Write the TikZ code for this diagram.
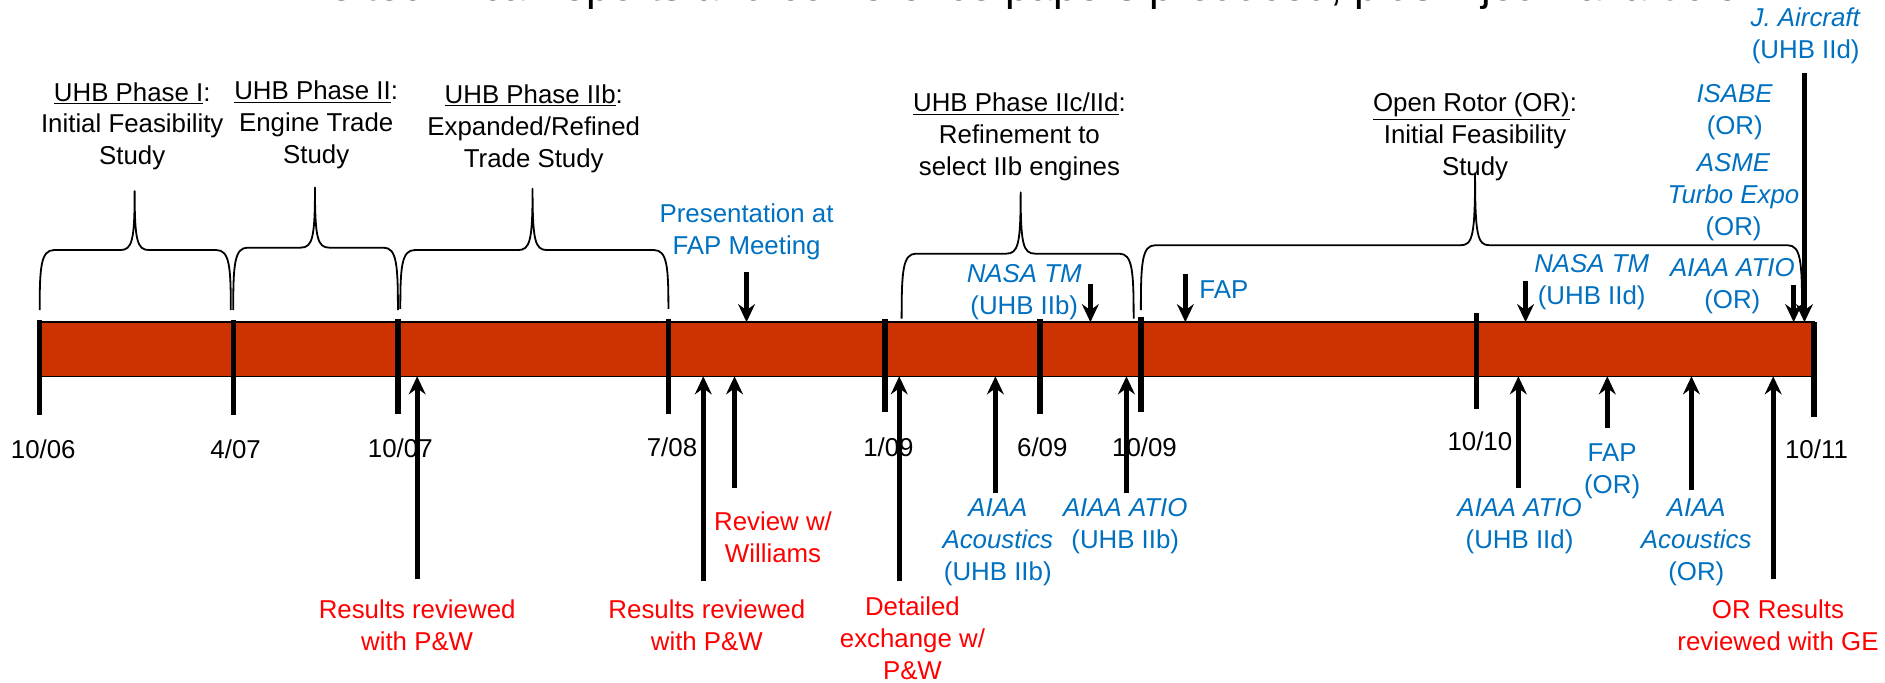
\documentclass[tikz,border=0pt]{standalone}
\usepackage{fontspec}
\setmainfont{Liberation Sans}
\usetikzlibrary{arrows.meta}
\definecolor{barred}{RGB}{204,51,0}
\definecolor{pubblue}{RGB}{0,112,192}
\definecolor{revred}{RGB}{255,0,0}
\newcommand{\phasebrace}[6]{% x1 x2 xm yh ytip ybot
  \draw[brace] (#1,#6) .. controls (#1,#4+14) and (#1+1,#4) .. (#1+12,#4)
    -- (#3-12,#4) .. controls (#3-2,#4) and (#3,#4-8) .. (#3,#5)
    .. controls (#3,#4-8) and (#3+2,#4) .. (#3+12,#4)
    -- (#2-12,#4) .. controls (#2-1,#4) and (#2,#4+14) .. (#2,#6);}
\newcommand{\tlup}[3]{\coordinate (#1-tail) at (#2,#3); \coordinate (#1-tip) at (#2,313); \draw[arr] (#1-tail) -- (#1-tip);}
\newcommand{\tldown}[3]{\coordinate (#1-tail) at (#2,#3); \coordinate (#1-tip) at (#2,268); \draw[arr] (#1-tail) -- (#1-tip);}
\newcommand{\tltick}[7]{% name x top bottom label lx ly
  \coordinate (#1-top) at (#2,#3); \coordinate (#1-bot) at (#2,#4);
  \draw[tickline] (#1-top) -- (#1-bot);
  \node[datelbl] (#1-lbl) at (#6,#7) {#5};}
\begin{document}
\begin{tikzpicture}[x=1pt,y=-1pt,
  lbl/.style={align=center, font=\fontsize{21.5}{26.5}\selectfont, inner sep=0pt},
  phase/.style={lbl, text=black},
  pub/.style={lbl, text=pubblue},
  rev/.style={lbl, text=revred},
  datelbl/.style={lbl, text=black},
  tickline/.style={line width=4.5pt},
  arr/.style={line width=4.3pt, -{Stealth[length=15pt,width=14pt,inset=5pt]}},
  brace/.style={line width=1.5pt, line join=round},
]
\useasboundingbox (0,0) rectangle (1568,568);
\clip (0,0) rectangle (1568,568);

% clipped title line at the very top
\node[anchor=base west, font=\fontsize{36}{40}\selectfont, inner sep=0pt] (title) at (220,0)
  {Nine technical reports and conference papers produced, plus 1 journal article};

% braces
\phasebrace{33}{192}{112}{208}{159}{258}
\phasebrace{194}{331}{262}{206}{156}{258}
\phasebrace{333}{556}{443}{208}{157}{257}
\phasebrace{750}{943}{849}{211}{160}{265}
\phasebrace{949}{1499}{1227}{204}{144}{258}

% bar
\coordinate (barNW) at (33,268);
\coordinate (barSE) at (1509,313);
\draw[fill=barred, line width=1.2pt] (barNW) rectangle (barSE);

% ticks and dates
\tltick{t1}{33}{266}{345}{10/06}{36}{374}
\tltick{t2}{194}{266}{345}{4/07}{196}{374}
\tltick{t3}{331}{265}{344}{10/07}{333}{373}
\tltick{t4}{556}{265}{344}{7/08}{559}{372}
\tltick{t5}{736}{265}{343}{1/09}{739}{372}
\tltick{t6}{865}{265}{344}{6/09}{867}{372}
\tltick{t7}{949}{264}{343}{10/09}{952}{372}
\tltick{t8}{1228}{260}{340}{10/10}{1231}{367}
\tltick{t9}{1509}{268}{347}{10/11}{1511}{374}

% phase labels
\node[phase] (phI) at (110,105) {\underline{UHB Phase I}:\\Initial Feasibility\\Study};
\node[phase] (phII) at (263,104) {\underline{UHB Phase II}:\\Engine Trade\\Study};
\node[phase] (phIIb) at (444,107) {\underline{UHB Phase IIb}:\\Expanded/Refined\\Trade Study};
\node[phase] (phIIc) at (848,114) {\underline{UHB Phase IIc/IId}:\\Refinement to\\select IIb engines};
\node[phase] (phOR) at (1227,114) {\underline{Open Rotor (OR)}:\\Initial Feasibility\\Study};

% publications / presentations above the bar
\node[pub] (pres) at (621,193) {Presentation at\\FAP Meeting};
\node[pub] (nasaB) at (852,243) {\textit{NASA TM}\\(UHB IIb)};
\node[pub] (fapA) at (1018,241) {FAP};
\node[pub] (nasaD) at (1324,235) {\textit{NASA TM}\\(UHB IId)};
\node[pub] (atioOR) at (1441,238) {\textit{AIAA ATIO}\\(OR)};
\node[pub] (isabe) at (1443,93) {\textit{ISABE}\\(OR)};
\node[pub] (asme) at (1442,164) {\textit{ASME}\\\textit{Turbo Expo}\\(OR)};
\node[pub] (jair) at (1502,30) {\textit{J. Aircraft}\\(UHB IId)};

% publications below the bar
\node[pub] (acB) at (830,451) {\textit{AIAA}\\\textit{Acoustics}\\(UHB IIb)};
\node[pub] (atioB) at (936,438) {\textit{AIAA ATIO}\\(UHB IIb)};
\node[pub] (atioD) at (1264,438) {\textit{AIAA ATIO}\\(UHB IId)};
\node[pub] (fapOR) at (1341,392) {FAP\\(OR)};
\node[pub] (acOR) at (1411,451) {\textit{AIAA}\\\textit{Acoustics}\\(OR)};

% reviews
\node[rev] (res1) at (347,520) {Results reviewed\\with P\&W};
\node[rev] (res2) at (588,520) {Results reviewed\\with P\&W};
\node[rev] (will) at (643,447) {Review w/\\Williams};
\node[rev] (det) at (759,531) {Detailed\\exchange w/\\P\&W};
\node[rev] (orge) at (1479,520) {OR Results\\reviewed with GE};

% arrows from above
\tldown{aPres}{621}{226}
\tldown{aNasaB}{907}{236}
\tldown{aFap}{986}{228}
\tldown{aNasaD}{1269}{234}
\tldown{aAtioOR}{1492}{237}
\tldown{aJair}{1501}{61}

% arrows from below
\tlup{aRes1}{347}{482}
\tlup{aRes2}{585}{483}
\tlup{aWill}{611}{406}
\tlup{aDet}{748}{483}
\tlup{aAcB}{828}{410}
\tlup{aAtioB}{937}{410}
\tlup{aAtioD}{1263}{406}
\tlup{aFapOR}{1337}{356}
\tlup{aAcOR}{1407}{408}
\tlup{aOrge}{1475}{482}
\end{tikzpicture}
\end{document}
